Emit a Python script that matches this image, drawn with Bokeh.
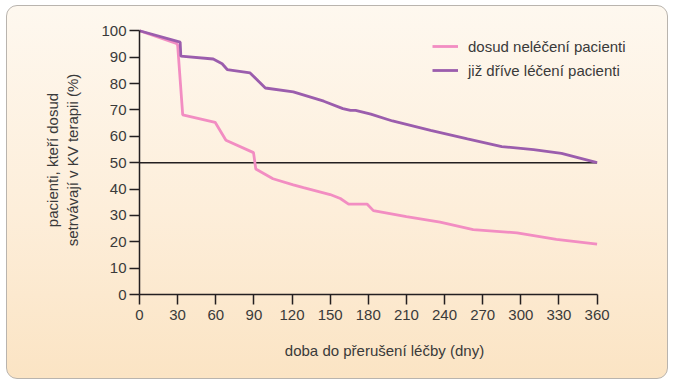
from bokeh.plotting import figure
from bokeh.models import Range1d, Legend, LegendItem, FixedTicker
from bokeh.embed import file_html
from bokeh.resources import INLINE

# ---- data ----
days_naive = [0, 29, 30, 34, 59.5, 68, 89.7, 91.5, 105, 121, 129, 150, 158, 164.5, 179, 184, 210, 236.5, 262.5, 297, 328, 360]
naive = [100, 95.2, 94.6, 68.1, 65.3, 58.5, 53.8, 47.6, 43.9, 41.6, 40.5, 37.9, 36.4, 34.3, 34.3, 31.8, 29.5, 27.4, 24.6, 23.4, 20.9, 19.1]

days_treated = [0, 32, 32.5, 58, 65, 69, 87, 99, 121, 145, 160, 166, 170, 182, 199, 229, 258, 285, 310, 332, 360]
treated = [100, 95.7, 90.4, 89.3, 87.5, 85.3, 84.0, 78.3, 76.8, 73.3, 70.5, 69.8, 69.8, 68.4, 65.8, 62.2, 59.0, 56.1, 54.9, 53.5, 50.0]

x_ticks = [0, 30, 60, 90, 120, 150, 180, 210, 240, 270, 300, 330, 360]
y_ticks = [0, 10, 20, 30, 40, 50, 60, 70, 80, 90, 100]
threshold = 50

label_naive = "dosud neléčení pacienti"
label_treated = "již dříve léčení pacienti"
x_title = "doba do přerušení léčby (dny)"
y_title = "pacienti, kteří dosud\nsetrvávají v KV terapii (%)"

FONT = "Liberation Sans"
TXT = "#3a3a3a"
PINK = "#F28DC2"
PURPLE = "#9B5DAD"

p = figure(width=662, height=374, output_backend="svg", toolbar_location=None,
           x_range=Range1d(0, 385.5), y_range=Range1d(0, 102),
           min_border_left=132, min_border_right=40, min_border_top=19, min_border_bottom=86)

p.border_fill_alpha = 0
p.background_fill_alpha = 0
p.outline_line_color = None
p.styles = {
    "background": "linear-gradient(to bottom, #FEF8EF 0%, #FDEEDA 55%, #FBE4C4 100%)",
    "border": "1.5px solid #B9B4AE",
    "border-radius": "11px",
    "margin-left": "6px",
    "margin-top": "5px",
}
p.xgrid.visible = False
p.ygrid.visible = False

for ax in (p.xaxis[0], p.yaxis[0]):
    ax.axis_line_color = "#231F20"
    ax.axis_line_width = 1.5
    ax.major_tick_line_color = "#231F20"
    ax.major_tick_line_width = 1.5
    ax.major_tick_in = 0
    ax.major_tick_out = 10
    ax.minor_tick_line_color = None
    ax.major_label_text_font = FONT
    ax.major_label_text_font_size = "15px"
    ax.major_label_text_color = TXT
    ax.axis_label_text_font = FONT
    ax.axis_label_text_font_size = "15px"
    ax.axis_label_text_color = TXT
    ax.axis_label_text_font_style = "normal"

p.xaxis.ticker = FixedTicker(ticks=x_ticks)
p.yaxis.ticker = FixedTicker(ticks=y_ticks)
p.xaxis.bounds = (0, 360)
p.yaxis.bounds = (0, 100)
p.xaxis.major_label_standoff = 5
p.yaxis.major_label_standoff = 3
p.xaxis.axis_label = x_title
p.xaxis.axis_label_standoff = 19
p.yaxis.axis_label = y_title
p.yaxis.axis_label_standoff = 17

# 50 % reference line across the time axis
p.segment(x0=[x_ticks[0]], y0=[threshold], x1=[x_ticks[-1]], y1=[threshold],
          line_color="#231F20", line_width=1.5)

r_naive = p.line(days_naive, naive, line_color=PINK, line_width=2.8)
r_treated = p.line(days_treated, treated, line_color=PURPLE, line_width=2.8)

legend = Legend(items=[LegendItem(label=label_naive, renderers=[r_naive]),
                       LegendItem(label=label_treated, renderers=[r_treated])],
                location=(293, 214), orientation="vertical",
                label_text_font=FONT, label_text_font_size="15px", label_text_color=TXT,
                glyph_width=26, glyph_height=20, label_height=20, label_standoff=10,
                spacing=4, padding=0, margin=0,
                border_line_color=None, background_fill_alpha=0)
p.add_layout(legend, "center")

open("out.html", "w").write(file_html(p, INLINE))
